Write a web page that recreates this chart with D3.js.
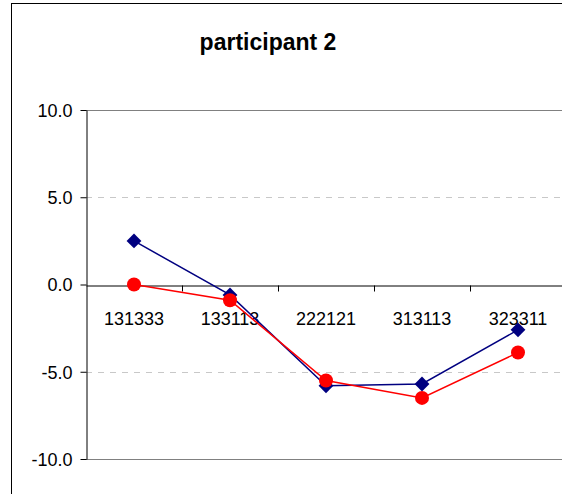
<!DOCTYPE html>
<html>
<meta charset="utf-8">
<style>
    body { margin: 0; background: #fff; overflow: hidden; }
    svg { display: block; }
    text { font-family: 'Liberation Sans', Arial, sans-serif; }
</style>
<body>
<svg id="chart" width="562" height="494"></svg>
<script src="https://d3js.org/d3.v7.min.js"></script>
<script>
const categories = ["131333", "133113", "222121", "313113", "323311"];
const blueValues = [2.5, -0.6, -5.8, -5.7, -2.6];
const redValues = [0.0, -0.9, -5.5, -6.5, -3.9];
const yTicks = [10, 5, 0, -5, -10];
const title = "participant 2";

const chart = d3.select("#chart");

// outer chart frame
chart.append("rect")
    .attr("x", 11.5).attr("y", 3.5)
    .attr("width", 600).attr("height", 600)
    .attr("fill", "#fff").attr("stroke", "#000").attr("stroke-width", 1);

const plotLeft = 86, plotRight = 566, plotTop = 110, plotBottom = 459;

const x = d3.scaleBand().domain(categories).range([plotLeft, plotRight]);
const y = d3.scaleLinear().domain([-10, 10]).range([plotBottom, plotTop]);

// plot area borders (top and bottom)
chart.append("line").attr("x1", plotLeft).attr("x2", plotRight)
    .attr("y1", plotTop + 0.5).attr("y2", plotTop + 0.5)
    .attr("stroke", "#808080");
chart.append("line").attr("x1", plotLeft).attr("x2", plotRight)
    .attr("y1", plotBottom + 0.5).attr("y2", plotBottom + 0.5)
    .attr("stroke", "#808080");

// dashed gridlines
chart.append("g").selectAll("line")
    .data(yTicks.filter(d => d === 5 || d === -5))
    .enter().append("line")
    .attr("x1", plotLeft).attr("x2", plotRight)
    .attr("y1", d => Math.round(y(d)) + 0.5).attr("y2", d => Math.round(y(d)) + 0.5)
    .attr("stroke", "#c8c8c8")
    .attr("stroke-dasharray", "6,6");

// y axis
const yAxis = chart.append("g")
    .attr("transform", "translate(" + (plotLeft + 0.5) + ",0)")
    .call(d3.axisLeft(y).tickValues(yTicks).tickSize(6).tickSizeOuter(0));
yAxis.attr("font-size", null).attr("font-family", null);
yAxis.select(".domain").attr("stroke", "#000");
yAxis.selectAll(".tick line").attr("stroke", "#000");
yAxis.selectAll("text")
    .style("font-size", "18px")
    .attr("fill", "#000")
    .attr("x", -14)
    .attr("dy", "0.35em")
    .text(d => d3.format(".1f")(d).replace("−", "-"));

// x axis at zero
const xAxis = chart.append("g")
    .attr("transform", "translate(0," + (Math.round(y(0)) + 0.5) + ")")
    .call(d3.axisBottom(x).tickSize(0).tickSizeOuter(0));
xAxis.attr("font-size", null).attr("font-family", null);
xAxis.select(".domain").attr("stroke", "#000");
xAxis.selectAll("text")
    .style("font-size", "18px")
    .attr("fill", "#000")
    .attr("y", 39)
    .attr("dy", 0);
// tick marks between categories
xAxis.selectAll(".sep")
    .data(categories.slice(1))
    .enter().append("line")
    .attr("x1", d => Math.round(x(d)) + 0.5).attr("x2", d => Math.round(x(d)) + 0.5)
    .attr("y1", 0).attr("y2", 6)
    .attr("stroke", "#000");

const cx = d => x(d) + x.bandwidth() / 2;
const line = d3.line()
    .x((d, i) => cx(categories[i]))
    .y(d => y(d));

// blue series
chart.append("path").datum(blueValues)
    .attr("d", line).attr("fill", "none")
    .attr("stroke", "#000080").attr("stroke-width", 1.5);
chart.append("g").selectAll("path")
    .data(blueValues).enter().append("path")
    .attr("d", d3.symbol().type(d3.symbolSquare).size(110))
    .attr("transform", (d, i) => "translate(" + cx(categories[i]) + "," + y(d) + ") rotate(45)")
    .attr("fill", "#000080");

// red series
chart.append("path").datum(redValues)
    .attr("d", line).attr("fill", "none")
    .attr("stroke", "#ff0000").attr("stroke-width", 1.5);
chart.append("g").selectAll("circle")
    .data(redValues).enter().append("circle")
    .attr("cx", (d, i) => cx(categories[i]))
    .attr("cy", d => y(d))
    .attr("r", 7)
    .attr("fill", "#ff0000");

// title
chart.append("text")
    .attr("x", 268).attr("y", 50)
    .attr("text-anchor", "middle")
    .style("font-size", "23px")
    .attr("font-weight", "bold")
    .text(title);
</script>
</body>
</html>
